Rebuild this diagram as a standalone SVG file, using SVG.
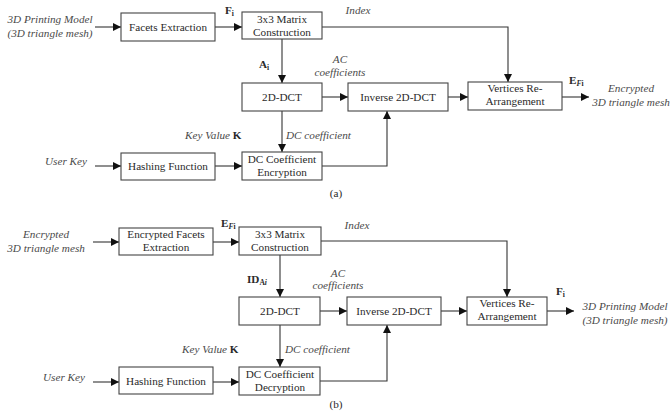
<svg xmlns="http://www.w3.org/2000/svg" width="672" height="411" viewBox="0 0 672 411" font-family="'Liberation Serif', Tinos, 'DejaVu Serif', serif">
<style>
text{font-family:'Liberation Serif',Tinos,'DejaVu Serif',serif;font-size:11.2px;fill:#2a2a2a}
.box{fill:#fff;stroke:#444;stroke-width:1.1}
.c{text-anchor:middle}
.it{font-style:italic;fill:#4a4a4a}
.b{font-weight:bold}
.sub{font-size:7.5px}
.conn{fill:none;stroke:#333;stroke-width:1.1}
</style>
<defs>
<marker id="ah" markerUnits="userSpaceOnUse" markerWidth="9" markerHeight="9" refX="8" refY="4" orient="auto">
<path d="M0,0 L8,4 L0,8 z" fill="#111"/>
</marker>
</defs>
<rect width="672" height="411" fill="#fff"/>

<g id="connectors">
<path class="conn" d="M95,27H121" marker-end="url(#ah)"/>
<path class="conn" d="M215,27H242" marker-end="url(#ah)"/>
<path class="conn" d="M322,27H508V82" marker-end="url(#ah)"/>
<path class="conn" d="M282,39V83" marker-end="url(#ah)"/>
<path class="conn" d="M322,97H348" marker-end="url(#ah)"/>
<path class="conn" d="M448,97H468" marker-end="url(#ah)"/>
<path class="conn" d="M562,97H589" marker-end="url(#ah)"/>
<path class="conn" d="M282,111V152" marker-end="url(#ah)"/>
<path class="conn" d="M95,166H121" marker-end="url(#ah)"/>
<path class="conn" d="M215,166H242" marker-end="url(#ah)"/>
<path class="conn" d="M322,166H387V111" marker-end="url(#ah)"/>

<path class="conn" d="M93,242H119" marker-end="url(#ah)"/>
<path class="conn" d="M213,242H239" marker-end="url(#ah)"/>
<path class="conn" d="M321,241H507V297" marker-end="url(#ah)"/>
<path class="conn" d="M280,255V297" marker-end="url(#ah)"/>
<path class="conn" d="M320,311H347" marker-end="url(#ah)"/>
<path class="conn" d="M441,311H467" marker-end="url(#ah)"/>
<path class="conn" d="M547,311H574" marker-end="url(#ah)"/>
<path class="conn" d="M280,325V367" marker-end="url(#ah)"/>
<path class="conn" d="M93,382H119" marker-end="url(#ah)"/>
<path class="conn" d="M213,382H239" marker-end="url(#ah)"/>
<path class="conn" d="M320,381H387V325" marker-end="url(#ah)"/>
</g>

<!-- (a) -->
<g id="a-input"><text class="it c" x="50" y="23">3D Printing Model</text><text class="it c" x="50" y="37">(3D triangle mesh)</text></g>
<g id="a-facets"><rect class="box" x="121" y="13" width="94" height="28"/><text class="c" x="168" y="31">Facets Extraction</text></g>
<g id="a-matrix"><rect class="box" x="242" y="12" width="80" height="27"/><text class="c" x="282" y="23">3x3 Matrix</text><text class="c" x="282" y="36">Construction</text></g>
<g id="a-dct"><rect class="box" x="242" y="83" width="80" height="28"/><text class="c" x="282" y="101">2D-DCT</text></g>
<g id="a-inv"><rect class="box" x="348" y="83" width="100" height="28"/><text class="c" x="398" y="101">Inverse 2D-DCT</text></g>
<g id="a-vert"><rect class="box" x="468" y="82" width="94" height="28"/><text class="c" x="515" y="92">Vertices Re-</text><text class="c" x="515" y="105">Arrangement</text></g>
<g id="a-hash"><rect class="box" x="121" y="153" width="94" height="27"/><text class="c" x="168" y="170">Hashing Function</text></g>
<g id="a-dcenc"><rect class="box" x="242" y="152" width="80" height="28"/><text class="c" x="282" y="163">DC Coefficient</text><text class="c" x="282" y="176">Encryption</text></g>
<g id="a-output"><text class="it c" x="631" y="92">Encrypted</text><text class="it c" x="631" y="106">3D triangle mesh</text></g>
<g id="a-labels">
<text class="b" x="225" y="14">F<tspan class="sub" dy="2">i</tspan></text>
<text class="it c" x="358" y="14">Index</text>
<text class="b" x="259" y="68">A<tspan class="sub" dy="2">i</tspan></text>
<text class="it c" x="340" y="63">AC</text><text class="it c" x="340" y="76">coefficients</text>
<text class="it" x="286" y="139">DC coefficient</text>
<text class="it" x="185" y="139">Key Value <tspan class="b" style="font-style:normal;fill:#2a2a2a">K</tspan></text>
<text class="it" x="45" y="165">User Key</text>
<text class="b" x="569" y="84">E<tspan class="sub" dy="2" style="font-style:italic">F</tspan><tspan class="sub" dy="0">i</tspan></text>
<text class="c" x="336" y="197">(a)</text>
</g>

<!-- (b) -->
<g id="b-input"><text class="it c" x="46" y="238">Encrypted</text><text class="it c" x="46" y="252">3D triangle mesh</text></g>
<g id="b-facets"><rect class="box" x="119" y="228" width="94" height="27"/><text class="c" x="166" y="238">Encrypted Facets</text><text class="c" x="166" y="251">Extraction</text></g>
<g id="b-matrix"><rect class="box" x="239" y="227" width="82" height="28"/><text class="c" x="280" y="238">3x3 Matrix</text><text class="c" x="280" y="251">Construction</text></g>
<g id="b-dct"><rect class="box" x="239" y="297" width="81" height="28"/><text class="c" x="280" y="315">2D-DCT</text></g>
<g id="b-inv"><rect class="box" x="347" y="297" width="94" height="28"/><text class="c" x="394" y="315">Inverse 2D-DCT</text></g>
<g id="b-vert"><rect class="box" x="467" y="297" width="80" height="28"/><text class="c" x="507" y="307">Vertices Re-</text><text class="c" x="507" y="320">Arrangement</text></g>
<g id="b-hash"><rect class="box" x="119" y="367" width="94" height="27"/><text class="c" x="166" y="385">Hashing Function</text></g>
<g id="b-dcdec"><rect class="box" x="239" y="367" width="81" height="28"/><text class="c" x="280" y="378">DC Coefficient</text><text class="c" x="280" y="391">Decryption</text></g>
<g id="b-output"><text class="it c" x="625" y="310">3D Printing Model</text><text class="it c" x="625" y="324">(3D triangle mesh)</text></g>
<g id="b-labels">
<text class="b" x="221" y="227">E<tspan class="sub" dy="2" style="font-style:italic">F</tspan><tspan class="sub" dy="0">i</tspan></text>
<text class="it c" x="357" y="229">Index</text>
<text class="b" x="247" y="283">ID<tspan class="sub" dy="2">A</tspan><tspan class="sub" dy="0" style="font-style:italic">i</tspan></text>
<text class="it c" x="338" y="277">AC</text><text class="it c" x="338" y="289">coefficients</text>
<text class="it" x="285" y="353">DC coefficient</text>
<text class="it" x="182" y="353">Key Value <tspan class="b" style="font-style:normal;fill:#2a2a2a">K</tspan></text>
<text class="it" x="43" y="381">User Key</text>
<text class="b" x="556" y="295">F<tspan class="sub" dy="2">i</tspan></text>
<text class="c" x="336" y="408">(b)</text>
</g>
</svg>
